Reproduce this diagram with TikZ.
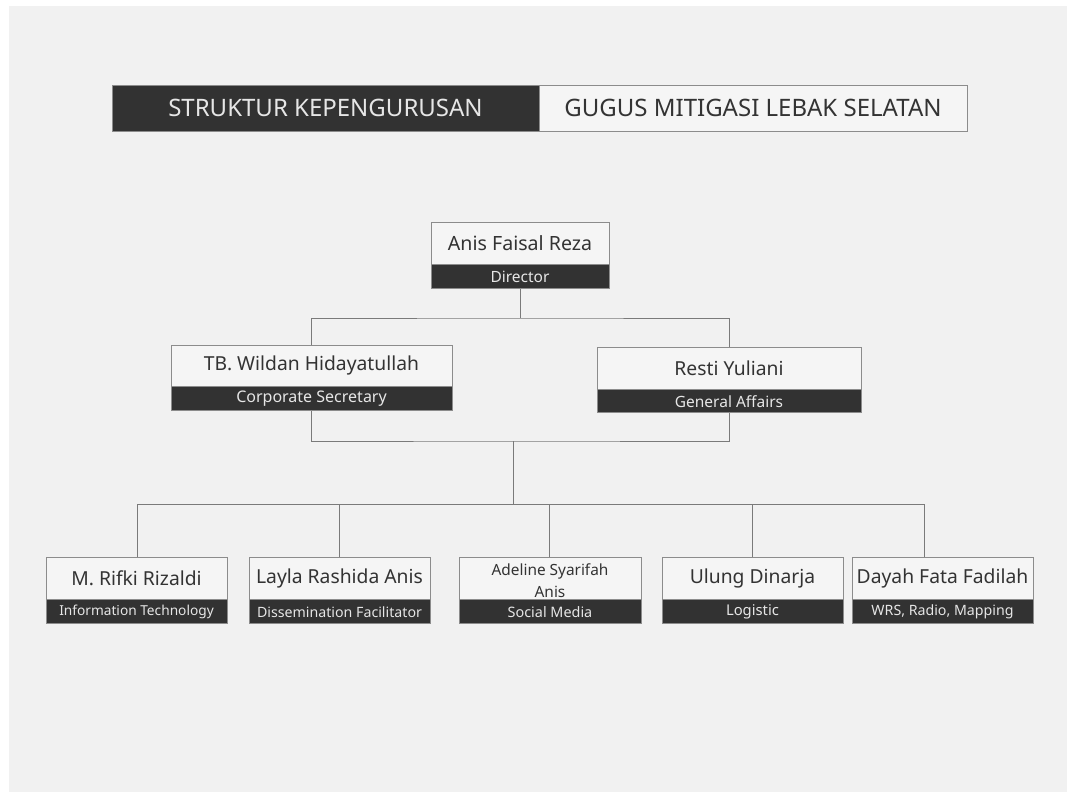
\documentclass[tikz,border=0pt]{standalone}
\usepackage{fontspec}
\setmainfont{Noto Sans}
\definecolor{pagebg}{HTML}{F1F1F1}
\definecolor{boxfill}{HTML}{F5F5F5}
\definecolor{darkfill}{HTML}{323232}
\definecolor{bordergray}{HTML}{8C8C8C}
\definecolor{linegray}{HTML}{7A7A7A}
\definecolor{textdark}{HTML}{333333}
\definecolor{rolegray}{HTML}{E6E6E6}
\tikzset{
  namebox/.style={draw=bordergray, fill=boxfill, line width=0.9pt, inner sep=0pt, text=textdark, font=\fontsize{19.3}{22}\selectfont},
  rolebox/.style={draw=bordergray, fill=darkfill, line width=0.9pt, inner sep=0pt, text=rolegray, font=\fontsize{15.5}{17}\selectfont},
  smallrole/.style={rolebox, font=\fontsize{14.2}{16}\selectfont},
  titledark/.style={draw=bordergray, fill=darkfill, line width=1pt, inner sep=0pt, text=rolegray, font=\fontsize{24}{27}\selectfont},
  titlelight/.style={draw=bordergray, fill=boxfill, line width=1pt, inner sep=0pt, text=textdark, font=\fontsize{24}{27}\selectfont},
  conn/.style={draw=linegray, line width=1pt}
}
\begin{document}
\begin{tikzpicture}[x=1pt,y=-1pt]
\useasboundingbox (0,0) rectangle (1067,792);
\fill[white] (0,0) rectangle (1067,792);
\fill[pagebg] (9,6) rectangle (1067,792);

% title
\node[titledark, minimum width=427pt, minimum height=46pt] (tleft) at (325.5,108) {STRUKTUR KEPENGURUSAN};
\node[titlelight, minimum width=428pt, minimum height=46pt] (tright) at (753,108) {GUGUS MITIGASI LEBAK SELATAN};

% director
\node[namebox, minimum width=178pt, minimum height=42pt, font=\fontsize{19.6}{22}\selectfont] (dirN) at (520,243) {Anis Faisal Reza};
\node[rolebox, minimum width=178pt, minimum height=24pt, anchor=north] (dirR) at (dirN.south) {Director};

% second level
\node[namebox, minimum width=281pt, minimum height=41pt] (tbN) at (311.5,365.5) {TB. Wildan Hidayatullah};
\node[rolebox, minimum width=281pt, minimum height=24pt, anchor=north, font=\fontsize{16}{18}\selectfont] (tbR) at (tbN.south) {Corporate Secretary};
\node[namebox, minimum width=264pt, minimum height=42pt] (reN) at (729,368) {Resti Yuliani};
\node[rolebox, minimum width=264pt, minimum height=23pt, anchor=north] (reR) at (reN.south) {General Affairs};

% third level
\node[namebox, minimum width=181pt, minimum height=42pt] (riN) at (136.5,578) {M. Rifki Rizaldi};
\node[smallrole, minimum width=181pt, minimum height=24pt, anchor=north, font=\fontsize{13.7}{16}\selectfont] (riR) at (riN.south) {Information Technology};
\node[namebox, minimum width=181pt, minimum height=42pt] (laN) at (339.5,578) {Layla Rashida Anis};
\node[smallrole, minimum width=181pt, minimum height=24pt, anchor=north] (laR) at (laN.south) {Dissemination Facilitator};
\node[namebox, minimum width=182pt, minimum height=42pt] (adN) at (550,578) {};
\node[text=textdark, inner sep=0pt, align=center, font=\fontsize{15.4}{21.5}\selectfont] (adT) at (550,580.5) {Adeline Syarifah\\Anis};
\node[smallrole, minimum width=182pt, minimum height=24pt, anchor=north, font=\fontsize{14.4}{16}\selectfont] (adR) at (adN.south) {Social Media};
\node[namebox, minimum width=181pt, minimum height=42pt] (ulN) at (752.5,578) {Ulung Dinarja};
\node[smallrole, minimum width=181pt, minimum height=24pt, anchor=north, font=\fontsize{14.8}{16}\selectfont] (ulR) at (ulN.south) {Logistic};
\node[namebox, minimum width=181pt, minimum height=42pt] (daN) at (942.5,578) {Dayah Fata Fadilah};
\node[smallrole, minimum width=181pt, minimum height=24pt, anchor=north] (daR) at (daN.south) {WRS, Radio, Mapping};

% connectors
\coordinate (topbus) at (520,318);
\coordinate (lowbus) at (513,441);
\coordinate (busL) at (137,504);
\coordinate (busR) at (924,504);
\coordinate (busM) at (513,504);

\draw[conn] (dirR.south) -- (topbus);
\draw[conn] (tbN.north) |- (topbus) -| (reN.north);
\draw[conn] (tbR.south) |- (lowbus) -| (reR.south);
\draw[conn] (lowbus) -- (busM);
\draw[conn] (busL) -- (busR);
\draw[conn] (busL) -- (busL |- riN.north);
\draw[conn] (busM -| laN.north) -- (laN.north);
\draw[conn] (busM -| 549,0) -- (549,557);
\draw[conn] (busM -| ulN.north) -- (ulN.north);
\draw[conn] (busR) -- (busR |- daN.north);
\end{tikzpicture}
\end{document}
